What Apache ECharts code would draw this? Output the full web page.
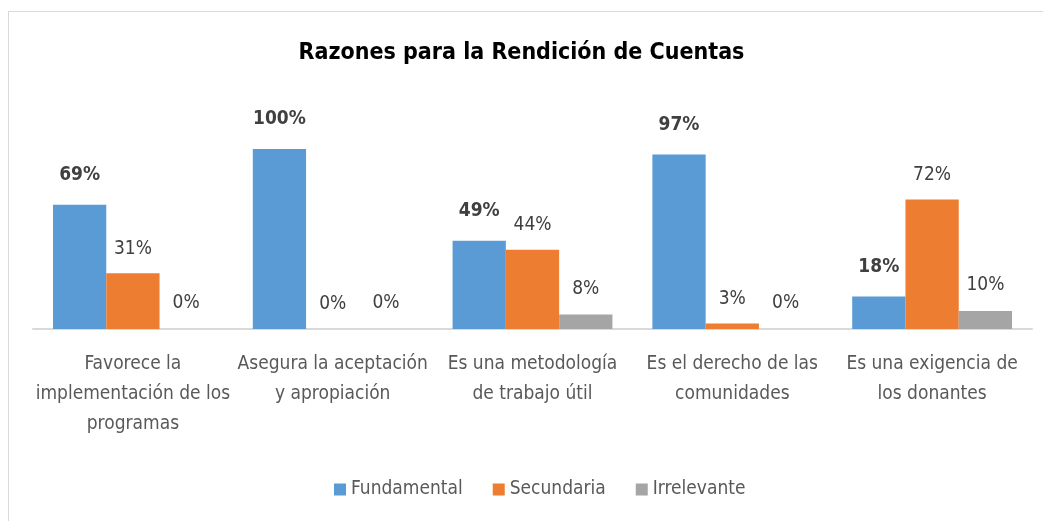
<!DOCTYPE html>
<html>
<head>
<meta charset="utf-8">
<script src="https://cdn.jsdelivr.net/npm/echarts@6/dist/echarts.min.js"></script>
<style>
  html, body { margin: 0; padding: 0; background: #fff; }
  #frame {
    position: absolute; left: 8px; top: 11px; width: 1040px; height: 515px;
    border-left: 1px solid #d9d9d9; border-top: 1px solid #d9d9d9;
  }
  #chart { position: absolute; left: 0; top: 0; width: 1043px; height: 521px; }
</style>
</head>
<body>
<div id="frame"></div>
<div id="chart"></div>
<script>
var categories = [
  'Favorece la\nimplementación de los\nprogramas',
  'Asegura la aceptación\ny apropiación',
  'Es una metodología\nde trabajo útil',
  'Es el derecho de las\ncomunidades',
  'Es una exigencia de\nlos donantes'
];
var fundamental = [69, 100, 49, 97, 18];
var secundaria = [31, 0, 44, 3, 72];
var irrelevante = [0, 0, 8, 0, 10];

var font = '"Liberation Sans Narrow", "DejaVu Sans Condensed", sans-serif';

var myChart = echarts.init(document.getElementById('chart'));

function barSeries(name, data, color, bold, dist) {
  return {
    name: name,
    type: 'bar',
    data: data,
    barGap: '0%',
    barCategoryGap: '20%',
    itemStyle: { color: color },
    label: {
      show: true,
      position: 'top',
      distance: dist,
      formatter: '{c}%',
      fontFamily: font,
      fontSize: 19,
      fontWeight: bold ? 'bold' : 'normal',
      color: '#404040'
    }
  };
}

var option = {
  animation: false,
  title: {
    text: 'Razones para la Rendición de Cuentas',
    left: 'center',
    top: 37,
    textStyle: { fontFamily: font, fontSize: 23, fontWeight: 'bold', color: '#000' }
  },
  legend: {
    bottom: 17,
    left: 329,
    itemWidth: 12,
    itemHeight: 12,
    itemGap: 30,
    icon: 'rect',
    textStyle: { fontFamily: font, fontSize: 19, color: '#595959' }
  },
  grid: { left: 33, right: 11, top: 149, bottom: 192 },
  xAxis: {
    type: 'category',
    data: categories,
    axisTick: { show: false },
    axisLine: { lineStyle: { color: '#d9d9d9', width: 2 } },
    axisLabel: {
      interval: 0,
      margin: 20,
      fontFamily: font,
      fontSize: 19,
      lineHeight: 30,
      color: '#595959'
    }
  },
  yAxis: {
    type: 'value',
    min: 0,
    max: 100,
    show: false,
    splitLine: { show: false }
  },
  series: [
    barSeries('Fundamental', fundamental, '#5b9bd5', true, 20),
    barSeries('Secundaria', secundaria, '#ed7d31', false, 15),
    barSeries('Irrelevante', irrelevante, '#a5a5a5', false, 16)
  ]
};
option && myChart.setOption(option);
</script>
</body>
</html>
